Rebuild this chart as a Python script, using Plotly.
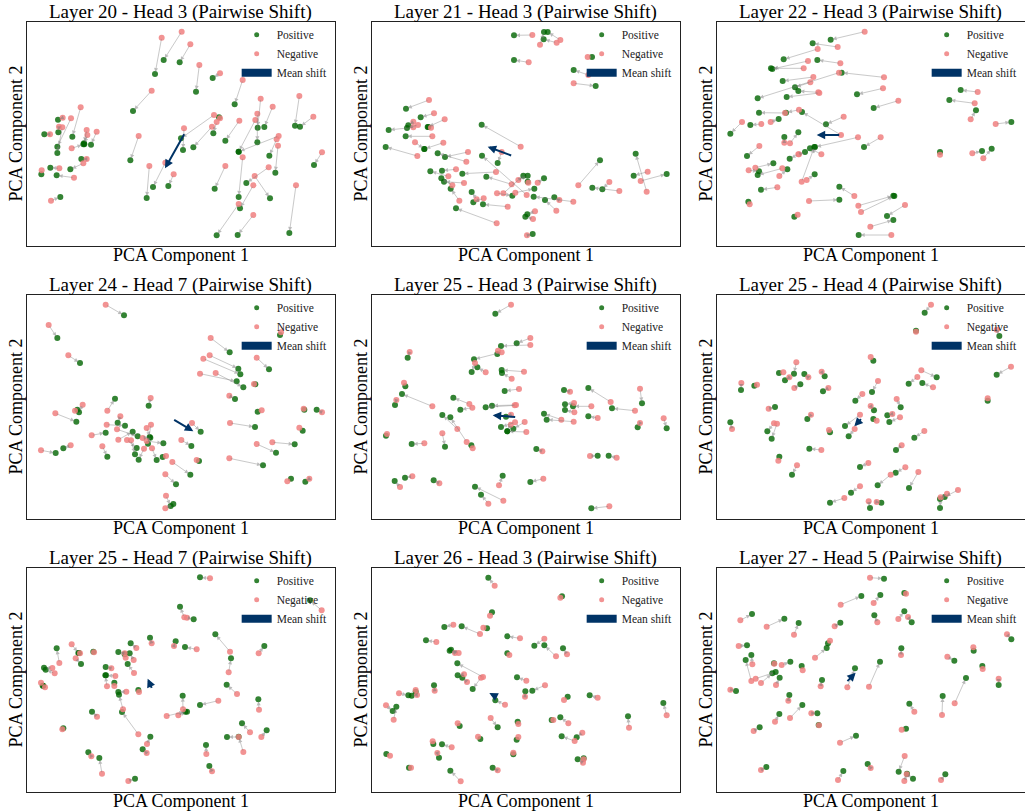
import plotly.graph_objects as go

# ---------------- data (PCA coordinates, arbitrary units; y grows downward) ----------------
panel_titles = [
    "Layer 20 - Head 3 (Pairwise Shift)", "Layer 21 - Head 3 (Pairwise Shift)", "Layer 22 - Head 3 (Pairwise Shift)",
    "Layer 24 - Head 7 (Pairwise Shift)", "Layer 25 - Head 3 (Pairwise Shift)", "Layer 25 - Head 4 (Pairwise Shift)",
    "Layer 25 - Head 7 (Pairwise Shift)", "Layer 26 - Head 3 (Pairwise Shift)", "Layer 27 - Head 5 (Pairwise Shift)",
]

# each row: (negative_x, negative_y, positive_x, positive_y)
l20_h3 = [
    (485, 113, 465, 222), (545, 95, 491, 180), (571, 133, 539, 187), (598, 195, 588, 275), (660, 220, 638, 234),
    (728, 240, 704, 313), (455, 272, 399, 333), (782, 296, 773, 383), (772, 341, 772, 427), (818, 320, 793, 381),
    (898, 288, 885, 377), (940, 350, 900, 380), (966, 457, 942, 495), (888, 556, 868, 699), (642, 345, 543, 415),
    (660, 355, 657, 352), (650, 366, 640, 400), (718, 362, 676, 422), (766, 360, 716, 455), (552, 385, 549, 450),
    (636, 380, 580, 442), (416, 408, 391, 481), (448, 498, 440, 594), (496, 488, 459, 561), (521, 523, 505, 558),
    (676, 498, 644, 566), (728, 472, 716, 591), (836, 408, 716, 455), (830, 418, 808, 467), (834, 437, 826, 518),
    (806, 502, 739, 549), (764, 528, 810, 595), (760, 556, 720, 625), (716, 612, 650, 706), (760, 645, 713, 705),
    (242, 322, 217, 410), (188, 353, 174, 359), (213, 355, 172, 440), (177, 380, 175, 397), (187, 382, 172, 459),
    (150, 403, 133, 403), (260, 390, 252, 430), (290, 395, 273, 434), (262, 405, 253, 433), (215, 445, 250, 433),
    (260, 477, 244, 477), (250, 490, 211, 508), (178, 505, 151, 503), (222, 533, 170, 526), (125, 511, 124, 523),
    (153, 602, 181, 591),
]
l21_h3 = [
    (562, 105, 507, 106), (646, 120, 608, 96), (635, 128, 596, 118), (585, 134, 597, 96), (551, 187, 507, 180),
    (728, 171, 741, 171), (730, 225, 686, 210), (686, 250, 752, 258), (252, 300, 183, 326), (267, 340, 227, 352),
    (299, 358, 248, 381), (205, 365, 190, 376), (219, 375, 186, 384), (205, 382, 131, 390), (262, 409, 182, 409),
    (258, 383, 250, 381), (295, 428, 238, 447), (210, 427, 238, 447), (217, 468, 122, 441), (369, 456, 300, 471),
    (364, 485, 278, 460), (527, 440, 410, 374), (470, 456, 458, 489), (333, 508, 291, 512), (453, 516, 352, 521),
    (310, 529, 256, 514), (357, 549, 297, 545), (322, 556, 289, 535), (343, 602, 317, 566), (395, 598, 380, 576),
    (416, 595, 385, 607), (488, 620, 414, 613), (455, 670, 333, 625), (475, 580, 535, 527), (520, 540, 548, 527),
    (500, 553, 424, 530), (511, 578, 568, 566), (578, 548, 597, 535), (550, 548, 548, 545), (545, 585, 411, 467),
    (685, 605, 566, 590), (643, 600, 628, 592), (634, 632, 600, 600), (570, 634, 547, 643), (564, 657, 541, 650),
    (546, 706, 563, 702), (700, 556, 765, 481), (793, 546, 772, 568), (823, 573, 742, 563), (908, 515, 866, 527),
    (905, 575, 872, 461), (887, 543, 965, 522), (456, 580, 502, 587),
]
l22_h3 = [
    (539, 95, 437, 119), (458, 141, 383, 130), (398, 147, 296, 178), (369, 183, 262, 207), (356, 205, 258, 205),
    (466, 190, 397, 180), (597, 232, 470, 218), (462, 218, 218, 295), (385, 231, 293, 243), (376, 247, 330, 262),
    (594, 265, 516, 283), (400, 277, 340, 273), (403, 279, 305, 291), (640, 302, 566, 324), (342, 329, 303, 338),
    (300, 339, 222, 338), (476, 350, 423, 373), (468, 405, 351, 336), (257, 366, 281, 357), (229, 372, 196, 375),
    (171, 366, 136, 401), (315, 430, 340, 397), (298, 428, 298, 411), (519, 412, 390, 441), (587, 412, 537, 441),
    (223, 438, 186, 468), (342, 463, 360, 456), (409, 463, 375, 445), (350, 545, 388, 441), (365, 540, 389, 523),
    (340, 463, 314, 476), (211, 503, 265, 490), (191, 511, 222, 514), (292, 505, 218, 525), (283, 528, 307, 508),
    (277, 562, 228, 569), (194, 613, 190, 605), (372, 603, 463, 599), (508, 588, 463, 560), (520, 617, 625, 587),
    (528, 636, 628, 588), (660, 615, 606, 648), (556, 680, 625, 660), (619, 705, 521, 705), (338, 644, 328, 650),
    (878, 276, 827, 270), (869, 310, 793, 300), (857, 358, 873, 331), (932, 372, 979, 366), (765, 464, 765, 456),
    (862, 460, 891, 453), (895, 475, 920, 446),
]
l24_h7 = [
    (317, 95, 372, 127), (146, 156, 172, 195), (205, 247, 240, 270), (632, 195, 689, 238), (629, 247, 715, 287),
    (610, 257, 721, 304), (600, 302, 710, 325), (647, 300, 730, 343), (770, 254, 807, 289), (762, 333, 766, 334),
    (688, 368, 705, 378), (843, 178, 840, 186), (911, 407, 913, 410), (966, 418, 950, 410), (785, 412, 773, 416),
    (690, 450, 765, 462), (898, 464, 908, 473), (770, 513, 828, 539), (817, 508, 884, 514), (688, 556, 789, 577),
    (862, 625, 873, 617), (928, 617, 916, 626), (166, 421, 229, 446), (248, 395, 237, 418), (225, 413, 232, 410),
    (322, 413, 345, 377), (452, 375, 446, 398), (361, 430, 353, 449), (320, 455, 375, 458), (275, 487, 317, 479),
    (351, 469, 413, 490), (355, 500, 398, 476), (381, 501, 410, 525), (393, 502, 405, 544), (307, 520, 322, 551),
    (123, 532, 167, 540), (212, 517, 190, 526), (440, 465, 451, 494), (453, 455, 444, 512), (428, 495, 449, 492),
    (456, 526, 470, 561), (440, 504, 490, 511), (432, 527, 416, 560), (498, 549, 488, 552), (576, 450, 602, 476),
    (544, 501, 574, 519), (590, 561, 597, 564), (517, 567, 571, 605), (496, 604, 528, 634), (498, 668, 512, 699),
    (496, 706, 520, 693),
]
l25_h3 = [
    (498, 95, 451, 122), (556, 195, 515, 211), (556, 216, 468, 219), (470, 238, 387, 259), (459, 233, 457, 243),
    (194, 237, 188, 254), (390, 270, 380, 297), (422, 298, 397, 283), (537, 296, 470, 291), (500, 317, 471, 300),
    (177, 329, 181, 340), (154, 381, 150, 396), (262, 400, 171, 363), (522, 348, 479, 354), (675, 356, 657, 351),
    (797, 387, 730, 345), (885, 347, 891, 391), (870, 413, 801, 406), (739, 400, 684, 400), (687, 390, 660, 394),
    (688, 418, 660, 411), (686, 446, 605, 440), (649, 440, 597, 422), (758, 435, 730, 430), (885, 450, 878, 463),
    (956, 436, 965, 466), (373, 393, 325, 374), (382, 404, 346, 410), (513, 396, 441, 398), (509, 397, 422, 403),
    (498, 425, 483, 431), (510, 448, 468, 462), (539, 447, 505, 467), (544, 477, 487, 475), (497, 455, 487, 475),
    (337, 468, 292, 426), (365, 507, 316, 433), (383, 526, 379, 517), (292, 481, 300, 521), (238, 511, 200, 513),
    (126, 483, 123, 488), (592, 535, 574, 528), (735, 549, 758, 548), (815, 554, 791, 548), (202, 610, 180, 614),
    (165, 642, 149, 624), (283, 631, 266, 622), (462, 637, 473, 608), (595, 617, 556, 627), (475, 683, 390, 641),
    (430, 692, 408, 665), (793, 700, 739, 706),
]
l25_h4 = [
    (738, 95, 719, 119), (693, 176, 693, 173), (935, 170, 943, 189), (557, 252, 565, 263), (978, 281, 935, 305),
    (709, 292, 755, 313), (334, 268, 327, 302), (295, 298, 282, 300), (313, 313, 300, 322), (370, 313, 358, 303),
    (410, 296, 419, 310), (169, 330, 168, 351), (216, 335, 208, 338), (328, 345, 346, 334), (430, 345, 414, 355),
    (579, 324, 561, 357), (697, 312, 671, 332), (744, 343, 712, 330), (532, 363, 511, 383), (635, 378, 647, 403),
    (557, 399, 567, 412), (908, 376, 908, 383), (251, 407, 270, 402), (378, 425, 367, 438), (525, 425, 480, 459),
    (509, 468, 491, 490), (575, 443, 565, 438), (622, 423, 607, 427), (645, 433, 613, 447), (267, 451, 247, 475),
    (276, 452, 260, 497), (141, 468, 136, 448), (432, 471, 435, 478), (718, 474, 688, 494), (650, 517, 633, 531),
    (409, 531, 373, 527), (280, 563, 283, 551), (336, 577, 321, 605), (550, 570, 525, 582), (661, 583, 632, 599),
    (617, 605, 578, 637), (700, 597, 672, 645), (525, 640, 498, 659), (478, 675, 435, 689), (551, 685, 555, 705),
    (575, 687, 589, 689), (819, 651, 779, 672), (786, 662, 765, 678), (767, 673, 765, 705),
]
l25_h7 = [
    (630, 97, 600, 94), (553, 214, 540, 182), (561, 215, 581, 220), (965, 193, 930, 163), (690, 317, 646, 265),
    (686, 379, 693, 337), (776, 322, 793, 300), (590, 310, 555, 303), (455, 292, 450, 275), (522, 300, 527, 286),
    (409, 306, 392, 292), (401, 342, 389, 322), (402, 381, 383, 354), (374, 322, 355, 318), (377, 335, 374, 325),
    (334, 367, 317, 363), (346, 390, 318, 388), (321, 421, 316, 388), (343, 420, 343, 410), (282, 319, 280, 317),
    (240, 322, 237, 321), (215, 295, 235, 321), (227, 337, 243, 354), (178, 351, 170, 307), (157, 366, 132, 365),
    (164, 382, 137, 371), (123, 410, 128, 419), (135, 424, 130, 419), (379, 437, 355, 438), (417, 438, 415, 432),
    (369, 490, 357, 446), (415, 565, 366, 498), (291, 512, 276, 497), (187, 550, 190, 547), (711, 444, 680, 416),
    (655, 464, 600, 477), (549, 490, 548, 449), (500, 510, 556, 497), (535, 508, 561, 497), (777, 491, 775, 460),
    (750, 559, 726, 532), (716, 573, 681, 573), (730, 618, 716, 572), (784, 573, 800, 553), (441, 594, 451, 572),
    (440, 621, 428, 610), (619, 624, 618, 597), (636, 676, 628, 660), (274, 631, 265, 619), (306, 683, 298, 636),
    (385, 705, 405, 698),
]
l26_h3 = [
    (449, 119, 430, 95), (646, 155, 651, 151), (435, 209, 441, 199), (325, 236, 298, 243), (405, 264, 350, 241),
    (415, 245, 426, 247), (525, 277, 487, 271), (598, 278, 568, 299), (633, 331, 598, 298), (666, 325, 654, 307),
    (274, 288, 243, 283), (341, 321, 318, 311), (330, 321, 314, 314), (493, 327, 487, 322), (414, 393, 337, 352),
    (357, 385, 338, 388), (408, 395, 383, 429), (366, 408, 352, 395), (544, 404, 516, 394), (600, 418, 562, 434),
    (540, 452, 541, 436), (269, 434, 267, 418), (162, 442, 190, 448), (216, 447, 200, 449), (212, 432, 212, 437),
    (480, 476, 451, 463), (657, 462, 668, 452), (758, 455, 734, 448), (123, 478, 143, 495), (146, 521, 154, 482),
    (437, 516, 458, 544), (338, 532, 344, 540), (520, 534, 518, 527), (625, 522, 620, 522), (670, 532, 646, 514),
    (852, 545, 849, 511), (965, 508, 955, 471), (399, 572, 406, 579), (520, 573, 515, 581), (689, 585, 650, 571),
    (712, 560, 695, 574), (263, 586, 265, 594), (320, 604, 291, 595), (277, 621, 282, 635), (135, 629, 124, 624),
    (505, 620, 505, 625), (714, 650, 698, 640), (716, 640, 716, 637), (198, 665, 192, 665), (458, 673, 443, 665),
    (347, 706, 316, 674),
]
l27_h5 = [
    (555, 95, 597, 98), (467, 176, 529, 150), (566, 171, 586, 147), (663, 143, 658, 141), (166, 223, 201, 204),
    (245, 242, 298, 218), (327, 266, 341, 231), (449, 241, 466, 230), (577, 229, 568, 208), (640, 219, 658, 196),
    (669, 213, 680, 229), (161, 300, 186, 298), (202, 355, 199, 327), (199, 405, 182, 342), (212, 398, 272, 378),
    (228, 411, 262, 382), (273, 417, 284, 395), (290, 357, 316, 347), (268, 353, 267, 352), (435, 284, 429, 292),
    (390, 335, 425, 306), (353, 373, 350, 360), (136, 431, 153, 435), (407, 421, 411, 402), (487, 424, 510, 367),
    (552, 422, 585, 347), (648, 327, 649, 307), (787, 332, 808, 344), (865, 304, 866, 314), (893, 369, 892, 360),
    (966, 265, 979, 280), (941, 398, 941, 417), (809, 472, 843, 396), (771, 507, 773, 450), (688, 497, 673, 473),
    (310, 464, 313, 447), (315, 516, 352, 477), (270, 527, 283, 504), (379, 502, 397, 502), (402, 538, 401, 537),
    (206, 555, 224, 544), (465, 590, 513, 569), (650, 551, 663, 548), (659, 630, 641, 677), (228, 672, 244, 663),
    (459, 702, 475, 675), (557, 666, 548, 654), (658, 705, 666, 683), (665, 685, 684, 698), (768, 702, 781, 685),
]
panel_pairs = [l20_h3, l21_h3, l22_h3, l24_h7, l25_h3, l25_h4, l25_h7, l26_h3, l27_h5]

# mean shift arrows: start (mean negative) and end (mean positive)
mean_shift_start = [(555, 398), (503, 468), (467, 405), (518, 438), (515, 432), (532, 434), (457, 430), (460, 455), (483, 410)]
mean_shift_end = [(495, 505), (428, 440), (395, 405), (580, 475), (443, 427), (508, 460), (443, 398), (433, 441), (512, 380)]

# axis ranges (data windows of each panel)
x_windows = [(80, 1005), (80, 1005), (95, 1020)]
y_window = (738, 65)

# ---------------- styling / layout ----------------
W, H = 1025, 811
col_left = [26.67, 371.67, 716.67]
row_top = [21.67, 294.67, 567.67]
PW, PH = 308.33, 224.33

GREEN = "rgba(0,100,0,0.8)"
PINK = "rgba(240,128,128,0.85)"
NAVY = "#003366"
GRAY = "rgba(120,120,120,0.5)"
FONT = "Liberation Serif, Times New Roman, serif"

fig = go.Figure()
annotations = []
layout_extra = {}

for i, pairs in enumerate(panel_pairs):
    r, c = divmod(i, 3)
    sid = "" if i == 0 else str(i + 1)
    xa, ya = "x" + sid, "y" + sid
    lx0 = col_left[c]
    ty = row_top[r]
    layout_extra["xaxis" + sid] = dict(
        domain=[lx0 / W, (lx0 + PW) / W], range=list(x_windows[c]), anchor=ya,
        showticklabels=False, ticks="", showgrid=False, zeroline=False,
        showline=True, mirror=True, linecolor="#222222", linewidth=1)
    layout_extra["yaxis" + sid] = dict(
        domain=[1 - (ty + PH) / H, 1 - ty / H], range=list(y_window), anchor=xa,
        showticklabels=False, ticks="", showgrid=False, zeroline=False,
        showline=True, mirror=True, linecolor="#222222", linewidth=1)

    neg_x = [p[0] for p in pairs]
    neg_y = [p[1] for p in pairs]
    pos_x = [p[2] for p in pairs]
    pos_y = [p[3] for p in pairs]

    fig.add_trace(go.Scatter(x=pos_x, y=pos_y, mode="markers", xaxis=xa, yaxis=ya,
                             marker=dict(color=GREEN, size=6), showlegend=False, hoverinfo="skip"))
    fig.add_trace(go.Scatter(x=neg_x, y=neg_y, mode="markers", xaxis=xa, yaxis=ya,
                             marker=dict(color=PINK, size=6), showlegend=False, hoverinfo="skip"))

    leg = "legend" if i == 0 else "legend" + str(i + 1)
    fig.add_trace(go.Scatter(x=[None], y=[None], mode="markers", name="Positive", legend=leg,
                             marker=dict(color=GREEN, size=5), xaxis=xa, yaxis=ya))
    fig.add_trace(go.Scatter(x=[None], y=[None], mode="markers", name="Negative", legend=leg,
                             marker=dict(color=PINK, size=5), xaxis=xa, yaxis=ya))
    fig.add_trace(go.Scatter(x=[None], y=[None], mode="lines", name="Mean shift", legend=leg,
                             line=dict(color=NAVY, width=8), xaxis=xa, yaxis=ya))
    layout_extra[leg] = dict(
        x=(lx0 + 210) / W, y=1 - (ty - 1.5) / H, xanchor="left", yanchor="top",
        bgcolor="rgba(0,0,0,0)", borderwidth=0, font=dict(family=FONT, size=11.5, color="#222"),
        itemclick=False, itemdoubleclick=False)

    for nx, ny, px, py in pairs:
        annotations.append(dict(x=px, y=py, ax=nx, ay=ny, xref=xa, yref=ya, axref=xa, ayref=ya,
                                text="", showarrow=True, arrowhead=2, arrowsize=1.0, arrowwidth=0.8,
                                arrowcolor=GRAY, standoff=2))
    (sx, sy), (ex, ey) = mean_shift_start[i], mean_shift_end[i]
    annotations.append(dict(x=ex, y=ey, ax=sx, ay=sy, xref=xa, yref=ya, axref=xa, ayref=ya,
                            text="", showarrow=True, arrowhead=2, arrowsize=0.85, arrowwidth=2.0,
                            arrowcolor=NAVY))

    cx = (lx0 + PW / 2) / W
    annotations.append(dict(text=panel_titles[i], x=cx, y=1 - (ty - 9.5) / H, xref="paper", yref="paper",
                            showarrow=False, xanchor="center", yanchor="middle",
                            font=dict(family=FONT, size=19, color="black")))
    annotations.append(dict(text="PCA Component 1", x=cx, y=1 - (ty + PH + 9) / H, xref="paper", yref="paper",
                            showarrow=False, xanchor="center", yanchor="middle",
                            font=dict(family=FONT, size=18, color="black")))
    annotations.append(dict(text="PCA Component 2", x=(lx0 - 11) / W, y=1 - (ty + PH / 2) / H,
                            xref="paper", yref="paper", textangle=-90,
                            showarrow=False, xanchor="center", yanchor="middle",
                            font=dict(family=FONT, size=18, color="black")))

fig.update_layout(
    width=W, height=H, margin=dict(l=0, r=0, t=0, b=0),
    paper_bgcolor="white", plot_bgcolor="white",
    annotations=annotations, **layout_extra)

fig.write_html("out.html", config={"displayModeBar": False},
               post_script="document.body.style.margin='0';")
